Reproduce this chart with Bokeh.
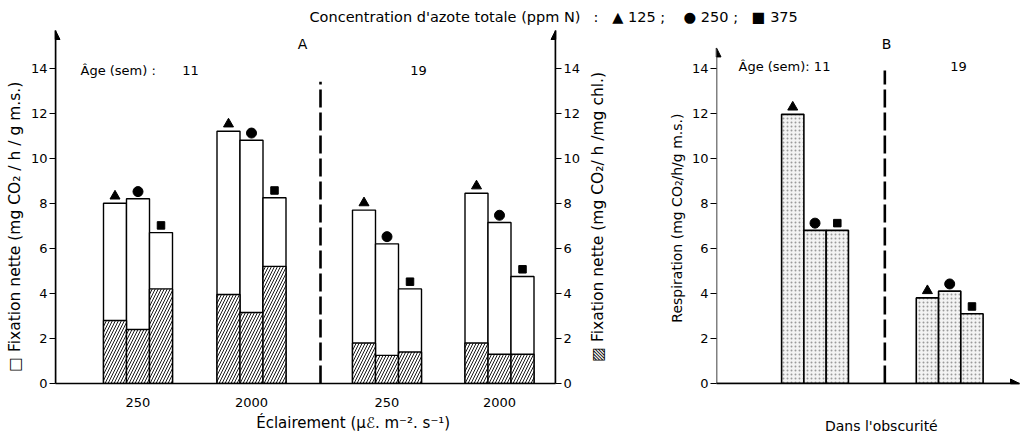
from bokeh.plotting import figure
from bokeh.layouts import row
from bokeh.models import Range1d, LinearAxis, FixedTicker, Arrow, NormalHead, Label, Title
from bokeh.embed import file_html
from bokeh.resources import INLINE

# ---------------- data ----------------
conc_labels = ["125", "250", "375"]
light_labels = ["250", "2000", "250", "2000"]
age_labels = ["11", "19"]
markers = ["triangle", "circle", "square"]

total_11_250 = [8.0, 8.2, 6.7]
chl_11_250 = [2.8, 2.4, 4.2]
total_11_2000 = [11.2, 10.8, 8.25]
chl_11_2000 = [3.95, 3.15, 5.2]
total_19_250 = [7.7, 6.2, 4.2]
chl_19_250 = [1.8, 1.25, 1.4]
total_19_2000 = [8.45, 7.15, 4.75]
chl_19_2000 = [1.8, 1.3, 1.3]

resp_11 = [11.95, 6.8, 6.8]
resp_19 = [3.8, 4.1, 3.1]

y_ticks = [0, 2, 4, 6, 8, 10, 12, 14]

# ---------------- layout / style ----------------
FONT = "DejaVu Sans"
FS = "13px"
NB = "\u00a0"
A_centers = [1.65, 3.92, 6.63, 8.88]
A_bw = 0.46
B_centers = [1.99, 4.71]
B_bw = 0.45
mark_off = 0.32

WA = 585
TOP, BOTTOM = 30, 385
A_left, B_left = 55, 713
YMAX = (BOTTOM - TOP) / 22.65


def style_axis(ax, ticks=True):
    ax.axis_line_width = 1.5
    ax.axis_line_color = "black"
    ax.major_label_text_font = FONT
    ax.major_label_text_font_size = FS
    ax.major_label_text_color = "black"
    ax.axis_label_text_font = FONT
    ax.axis_label_text_font_size = "13.5px"
    ax.axis_label_text_font_style = "normal"
    ax.axis_label_text_color = "black"
    ax.minor_tick_line_color = None
    ax.major_tick_in = 0
    ax.major_tick_out = 6 if ticks else 0
    ax.major_tick_line_width = 1.2
    ax.major_tick_line_color = "black"
    ax.major_label_standoff = 2


def lab(p, fl, px, py, text, size="13px", align="left"):
    p.add_layout(Label(x=px - fl, y=BOTTOM - py, x_units="screen", y_units="screen", text=text,
                       text_font=FONT, text_font_size=size, text_font_style="normal",
                       text_align=align, text_baseline="middle", text_color="black"))


def title(p, text, offset):
    p.add_layout(Title(text=text, align="left", offset=offset, standoff=11,
                       text_font=FONT, text_font_size="14.5px", text_font_style="normal",
                       text_color="black"), "above")


head = dict(size=9, fill_color="black", line_color="black")

# ================= Panel A =================
pA = figure(width=WA, height=436, x_range=Range1d(0, 10), y_range=Range1d(0, YMAX),
            min_border_left=A_left, min_border_right=WA - 555, min_border_top=TOP,
            min_border_bottom=436 - BOTTOM, title=None,
            output_backend="svg", toolbar_location=None)
pA.grid.visible = False
pA.outline_line_color = None

totals = [total_11_250, total_11_2000, total_19_250, total_19_2000]
chls = [chl_11_250, chl_11_2000, chl_19_250, chl_19_2000]
for c, tot, chl in zip(A_centers, totals, chls):
    xs = [c + (i - 1) * A_bw for i in range(3)]
    pA.vbar(x=xs, top=tot, width=A_bw, fill_color="white", line_color="black", line_width=1.4)
    pA.vbar(x=xs, top=chl, width=A_bw, fill_color="white", line_color="black", line_width=1.4,
            hatch_pattern="/", hatch_color="black", hatch_scale=6, hatch_weight=0.9)
    for i, m in enumerate(markers):
        pA.scatter(x=[xs[i]], y=[tot[i] + mark_off], marker=m, size=10 if m != "square" else 7.5,
                   fill_color="black", line_color="black")

pA.segment(x0=[5.3], y0=[0], x1=[5.3], y1=[13.4], line_color="black", line_width=2.6,
           line_dash="18 5")

ax = pA.xaxis[0]
style_axis(ax, ticks=False)
ax.ticker = FixedTicker(ticks=A_centers)
ax.major_label_overrides = {c: t for c, t in zip(A_centers, light_labels)}
ax.major_label_standoff = 14
ax.axis_label = NB * 20 + "Éclairement (μℰ. m⁻². s⁻¹)"
ax.axis_label_text_font_size = "15px"
ax.axis_label_standoff = 4

ay = pA.yaxis[0]
style_axis(ay)
ay.ticker = FixedTicker(ticks=y_ticks)
ay.axis_label = "□  Fixation nette   (mg CO₂ / h / g  m.s.)" + NB * 4
ay.axis_label_text_font_size = "15.5px"
ay.axis_label_standoff = 4

pA.extra_y_ranges = {"chl": Range1d(0, YMAX)}
ayr = LinearAxis(y_range_name="chl")
style_axis(ayr)
ayr.ticker = FixedTicker(ticks=y_ticks)
pA.add_layout(ayr, "right")

pA.add_layout(Arrow(end=NormalHead(**head), x_start=0, y_start=0, x_end=0, y_end=YMAX,
                    line_color="black", line_width=1.5))
pA.add_layout(Arrow(end=NormalHead(**head), x_start=10, y_start=0, x_end=10, y_end=YMAX,
                    line_color="black", line_width=1.5))

title(pA, "Concentration d'azote totale (ppm N)", 309 - A_left)
lab(pA, A_left, 302, 45, "A", size="14px", align="center")
lab(pA, A_left, 80, 72, "Âge (sem) :")
lab(pA, A_left, 190, 72, age_labels[0], align="center")
lab(pA, A_left, 418, 72, age_labels[1], align="center")

# ================= Panel B =================
WB = 1024 - WA
XB = (1019 - B_left) / 50
pB = figure(width=WB, height=436, x_range=Range1d(0, XB), y_range=Range1d(0, YMAX),
            min_border_left=B_left - WA, min_border_right=1024 - 1019, min_border_top=TOP,
            min_border_bottom=436 - BOTTOM, title=None,
            output_backend="svg", toolbar_location=None)
pB.grid.visible = False
pB.outline_line_color = None

for c, vals in zip(B_centers, [resp_11, resp_19]):
    xs = [c + (i - 1) * B_bw for i in range(3)]
    pB.vbar(x=xs, top=vals, width=B_bw, fill_color="#f3f3f3", line_color="black", line_width=1.6,
            hatch_pattern="dot", hatch_color="#9a9a9a", hatch_scale=4, hatch_weight=0.8)
    for i, m in enumerate(markers):
        pB.scatter(x=[xs[i]], y=[vals[i] + mark_off], marker=m, size=10 if m != "square" else 7.5,
                   fill_color="black", line_color="black")

pB.segment(x0=[3.4], y0=[0], x1=[3.4], y1=[13.9], line_color="black", line_width=2.6,
           line_dash="18 5")

bx = pB.xaxis[0]
style_axis(bx, ticks=False)
bx.ticker = FixedTicker(ticks=[])
bx.axis_label = NB * 6 + "Dans l'obscurité"
bx.axis_label_text_font_size = "14px"
bx.axis_label_standoff = 34

by = pB.yaxis[0]
style_axis(by)
by.axis_line_color = None
by.ticker = FixedTicker(ticks=y_ticks)
by.axis_label = "Respiration (mg CO₂/h/g m.s.)" + NB * 5
by.axis_label_text_font_size = "14px"
by.axis_label_standoff = 4

# title of panel A's right-hand (chlorophyll) scale, placed in the gap between panels
chl_title = LinearAxis()
style_axis(chl_title, ticks=False)
chl_title.axis_line_color = None
chl_title.ticker = FixedTicker(ticks=[])
chl_title.axis_label = "▨ Fixation nette  (mg CO₂/ h /mg chl.)" + NB * 3
chl_title.axis_label_text_font_size = "15.5px"
chl_title.axis_label_standoff = 59
pB.add_layout(chl_title, "left")

pB.add_layout(Arrow(end=NormalHead(**head), x_start=0, y_start=0, x_end=0, y_end=14.9,
                    line_color="black", line_width=1.5))
pB.add_layout(Arrow(end=NormalHead(**head), x_start=0, y_start=0, x_end=XB, y_end=0,
                    line_color="black", line_width=1.5))

title(pB, ":" + NB * 3 + "▲ 125 ;" + NB * 4 + "● 250 ;" + NB * 3 + "■ 375", 590 - B_left)
lab(pB, B_left, 883, 45, "B", size="14px", align="center")
lab(pB, B_left, 735, 68, "Âge (sem): 11")
lab(pB, B_left, 955, 68, age_labels[1], align="center")

layout = row(pA, pB)
open("out.html", "w").write(file_html(layout, INLINE))
